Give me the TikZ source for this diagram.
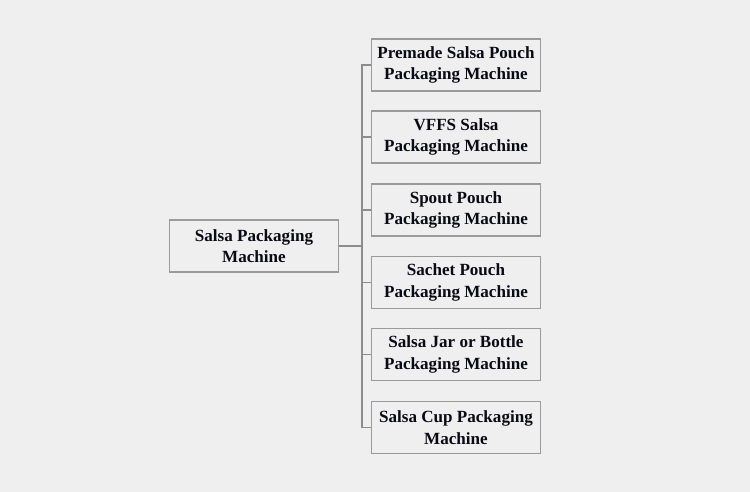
\documentclass[tikz,border=0pt]{standalone}
\usepackage{fontspec}
\setmainfont{Liberation Serif}
\usepackage{xcolor}
\usepackage{tikz}
\usetikzlibrary{calc}

\definecolor{canvas}{HTML}{EFEFEF}
\definecolor{boxline}{HTML}{9A9A9A}
\definecolor{wire}{HTML}{8C8C8C}
\definecolor{ink}{HTML}{0A0A14}

\tikzset{
  machbox/.style={draw=boxline,line width=1.1pt,fill=canvas,minimum width=126.75pt,
    minimum height=39pt,inner sep=0pt,align=center,text=ink,
    font=\fontsize{12.8}{16.2}\selectfont\bfseries},
  wireline/.style={draw=wire,line width=0.8pt}
}

\begin{document}
\begin{tikzpicture}[x=0.75pt,y=-0.75pt]
  \useasboundingbox[fill=canvas] (0,0) rectangle (750,492);
  % root
  \node[machbox] (root) at (254,246) {Salsa Packaging\\Machine};
  % branches
  \node[machbox] (premade) at (456,65)    {Premade Salsa Pouch\\Packaging Machine};
  \node[machbox] (vffs)    at (456,137)   {VFFS Salsa\\Packaging Machine};
  \node[machbox] (spout)   at (456,210)   {Spout Pouch\\Packaging Machine};
  \node[machbox] (sachet)  at (456,282.5) {Sachet Pouch\\Packaging Machine};
  \node[machbox] (jar)     at (456,354.5) {Salsa Jar or Bottle\\Packaging Machine};
  \node[machbox] (cup)     at (456,427.5) {Salsa Cup Packaging\\Machine};
  \coordinate (trunk) at (362,246);
  \draw[wireline] (root.east) -- (trunk);
  \draw[wireline] (premade.west) -- (premade.west -| trunk) -- (cup.west -| trunk) -- (cup.west);
  \foreach \b in {vffs,spout,sachet,jar}
    \draw[wireline] (\b.west -| trunk) -- (\b.west);
\end{tikzpicture}
\end{document}
